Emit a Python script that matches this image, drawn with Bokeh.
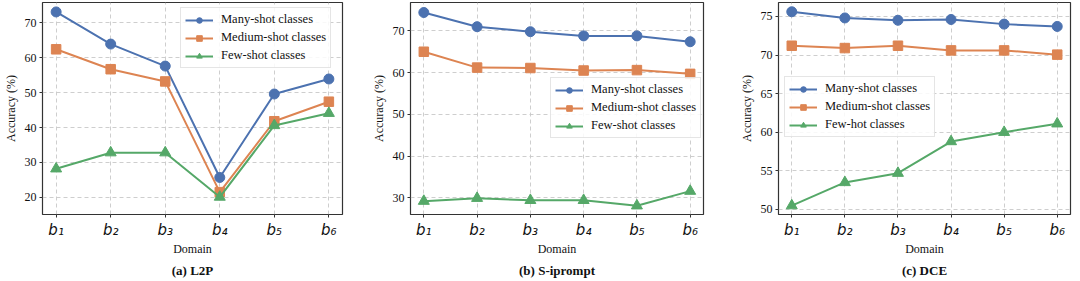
from bokeh.plotting import figure
from bokeh.layouts import row
from bokeh.models import FixedTicker, Range1d, Title, Legend
from bokeh.embed import file_html
from bokeh.resources import INLINE

domains = [1, 2, 3, 4, 5, 6]
domain_labels = ["b₁", "b₂", "b₃", "b₄", "b₅", "b₆"]

# (a) L2P
l2p_many = [73.1, 63.9, 57.6, 25.7, 49.6, 53.9]
l2p_medium = [62.4, 56.7, 53.2, 21.5, 41.8, 47.4]
l2p_few = [28.2, 32.8, 32.8, 20.1, 40.6, 44.1]

# (b) S-iprompt
sip_many = [74.4, 71.0, 69.8, 68.8, 68.8, 67.4]
sip_medium = [65.0, 61.2, 61.1, 60.5, 60.6, 59.7]
sip_few = [29.2, 29.9, 29.4, 29.4, 28.1, 31.6]

# (c) DCE
dce_many = [75.6, 74.8, 74.5, 74.6, 74.0, 73.7]
dce_medium = [71.2, 70.9, 71.2, 70.6, 70.6, 70.05]
dce_few = [50.5, 53.5, 54.7, 58.8, 60.0, 61.1]

labels_ab = ["Many-shot classes", "Medium-shot classes", "Few-shot classes"]
labels_c = ["Many-shot classes", "Medium-shot classes", "Few-hot classes"]

BLUE, ORANGE, GREEN = "#4C72B0", "#DD8452", "#55A868"
SERIF = "Liberation Serif"


def make_panel(series, labels, caption, yr, yticks, legend_loc, width, bl, br):
    p = figure(width=width, height=280, output_backend="svg", toolbar_location=None,
               x_range=Range1d(0.75, 6.25), y_range=Range1d(*yr),
               min_border_left=bl, min_border_right=br, min_border_top=2,
               min_border_bottom=45)
    p.outline_line_color = "#333333"
    p.outline_line_width = 1.2
    items = []
    for ys, lab, col, mk, sz in zip(series, labels, [BLUE, ORANGE, GREEN],
                                    ["circle", "square", "triangle"], [10, 9.5, 11]):
        r1 = p.line(domains, ys, line_color=col, line_width=2)
        r2 = p.scatter(domains, ys, marker=mk, size=sz, fill_color=col, line_color=col)
        items.append((lab, [r1, r2]))
    leg = Legend(items=items, location=legend_loc)
    leg.label_text_font = SERIF
    leg.label_text_font_size = "12.5px"
    leg.label_text_color = "#111111"
    leg.glyph_width = 28
    leg.glyph_height = 14
    leg.label_height = 14
    leg.spacing = 3
    leg.padding = 4
    leg.margin = 0
    leg.label_standoff = 8
    leg.border_line_color = "#cccccc"
    leg.border_line_width = 1
    leg.background_fill_alpha = 0.85
    p.add_layout(leg)

    p.xaxis.ticker = FixedTicker(ticks=domains)
    p.xaxis.major_label_overrides = {d: l for d, l in zip(domains, domain_labels)}
    p.xaxis.major_label_text_font = "DejaVu Sans"
    p.xaxis.major_label_text_font_style = "italic"
    p.xaxis.major_label_text_font_size = "15px"
    p.xaxis.axis_label = "Domain"
    p.yaxis.ticker = FixedTicker(ticks=yticks)
    p.yaxis.axis_label = "Accuracy (%)"
    for ax in (p.xaxis[0], p.yaxis[0]):
        ax.axis_label_text_font = SERIF
        ax.axis_label_text_font_size = "12px"
        ax.axis_label_text_font_style = "normal"
        ax.axis_label_text_color = "#111111"
        ax.axis_line_color = None
        ax.major_tick_line_color = "#333333"
        ax.major_tick_out = 3
        ax.major_tick_in = 0
        ax.minor_tick_line_color = None
        ax.major_label_text_color = "#111111"
        ax.axis_label_standoff = 4
        ax.major_label_standoff = 3
    p.yaxis.major_label_text_font = SERIF
    p.yaxis.major_label_text_font_size = "12px"
    p.xaxis.axis_label_standoff = 0
    for g in (p.xgrid[0], p.ygrid[0]):
        g.grid_line_color = "#c8c8c8"
        g.grid_line_dash = "4 3"
        g.grid_line_width = 0.9
    t = Title(text=caption, text_font=SERIF, text_font_size="13px",
              text_font_style="bold", align="center", text_color="#111111",
              standoff=5)
    p.add_layout(t, "below")
    return p


p1 = make_panel([l2p_many, l2p_medium, l2p_few], labels_ab, "(a) L2P",
                (15.1, 75.8), [20, 30, 40, 50, 60, 70], (138, 146), 352, 37, 10)
p2 = make_panel([sip_many, sip_medium, sip_few], labels_ab, "(b) S-iprompt",
                (26.0, 76.8), [30, 40, 50, 60, 70], (140, 76), 361, 58, 10)
p3 = make_panel([dce_many, dce_medium, dce_few], labels_c, "(c) DCE",
                (49.35, 76.8), [50, 55, 60, 65, 70, 75], (6, 77), 360, 65, 3)

layout = row(p1, p2, p3, spacing=0)
open("out.html", "w").write(file_html(layout, INLINE))
